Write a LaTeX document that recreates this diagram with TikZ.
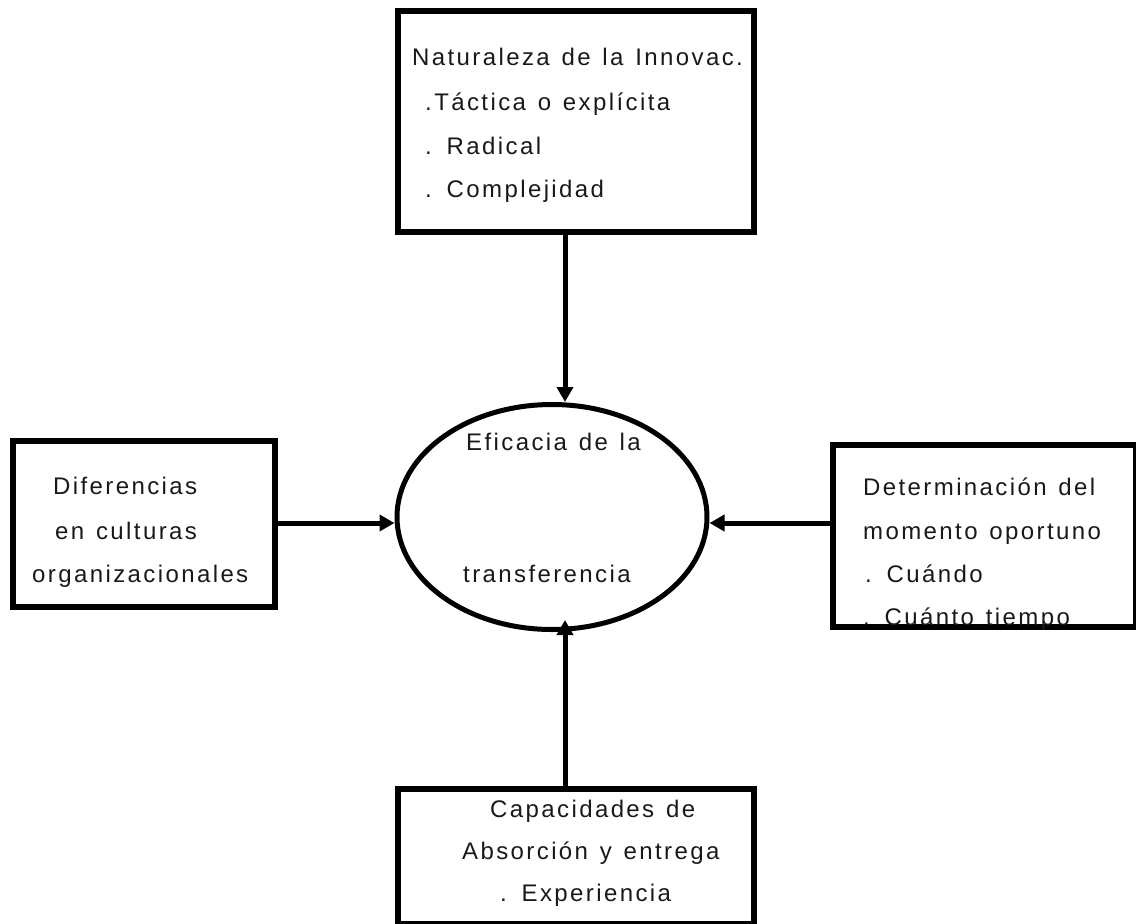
\documentclass[tikz,border=0pt]{standalone}
\usepackage{fontspec}
\setmainfont{Liberation Sans}
\newfontfamily\boxfont{Liberation Sans}[LetterSpace=10, WordSpace=1.3]
\usetikzlibrary{arrows.meta,shapes.geometric}

\tikzset{
  frame/.style={draw=black, line width=6pt, rectangle, inner sep=0pt, fill=none},
  oval/.style={draw=black, line width=5pt, ellipse, inner sep=0pt},
  label/.style={anchor=base west, inner sep=0pt, font=\boxfont\fontsize{24}{24}\selectfont, text=black!90},
  link/.style={line width=5pt, -{Triangle[length=15pt,width=16pt]}}
}

\begin{document}
\begin{tikzpicture}[x=1pt, y=-1pt]
  \useasboundingbox (0,0) rectangle (1136,924);
  \clip (0,0) rectangle (1136,924);

  % frames
  \node[frame, minimum width=356pt, minimum height=221pt] (top) at (576,121.5) {};
  \node[frame, minimum width=262pt, minimum height=166pt] (left) at (144,524) {};
  \node[frame, minimum width=303pt, minimum height=182pt] (right) at (984.5,536) {};
  \node[frame, minimum width=356pt, minimum height=135pt] (bottom) at (576,856.5) {};
  \node[oval, minimum width=310pt, minimum height=225pt] (eff) at (552,517) {};

  % reference lines for the connectors
  \coordinate (vx) at (565,0);
  \coordinate (hy) at (0,523);
  \coordinate (btip) at (565,620);

  % top frame text
  \node[label] (t1) at (412,65) {Naturaleza de la Innovac.};
  \node[label] (t2) at (425,110) {.Táctica o explícita};
  \node[label] (t3) at (425,154) {. Radical};
  \node[label] (t4) at (425,197) {. Complejidad};

  % left frame text
  \node[label] (l1) at (53,494) {Diferencias};
  \node[label] (l2) at (55,539) {en culturas};
  \node[label] (l3) at (32,582) {organizacionales};

  % right frame text
  \node[label] (r1) at (863,495) {Determinación del};
  \node[label] (r2) at (863,539) {momento oportuno};
  \node[label] (r3) at (865,582) {. Cuándo};
  \node[label] (r4) at (863,625) {. Cuánto tiempo};

  % bottom frame text
  \node[label] (b1) at (490,817) {Capacidades de};
  \node[label] (b2) at (462,859) {Absorción y entrega};
  \node[label] (b3) at (500,901) {. Experiencia};

  % ellipse text
  \node[label] (e1) at (466,450) {Eficacia de la};
  \node[label] (e2) at (463,582) {transferencia};

  % connectors
  \draw[link] (top.south -| vx) -- (eff.north -| vx);
  \draw[link] (bottom.north -| vx) -- (btip);
  \draw[link] (left.east |- hy) -- (eff.west |- hy);
  \draw[link] (right.west |- hy) -- (eff.east |- hy);
\end{tikzpicture}
\end{document}
